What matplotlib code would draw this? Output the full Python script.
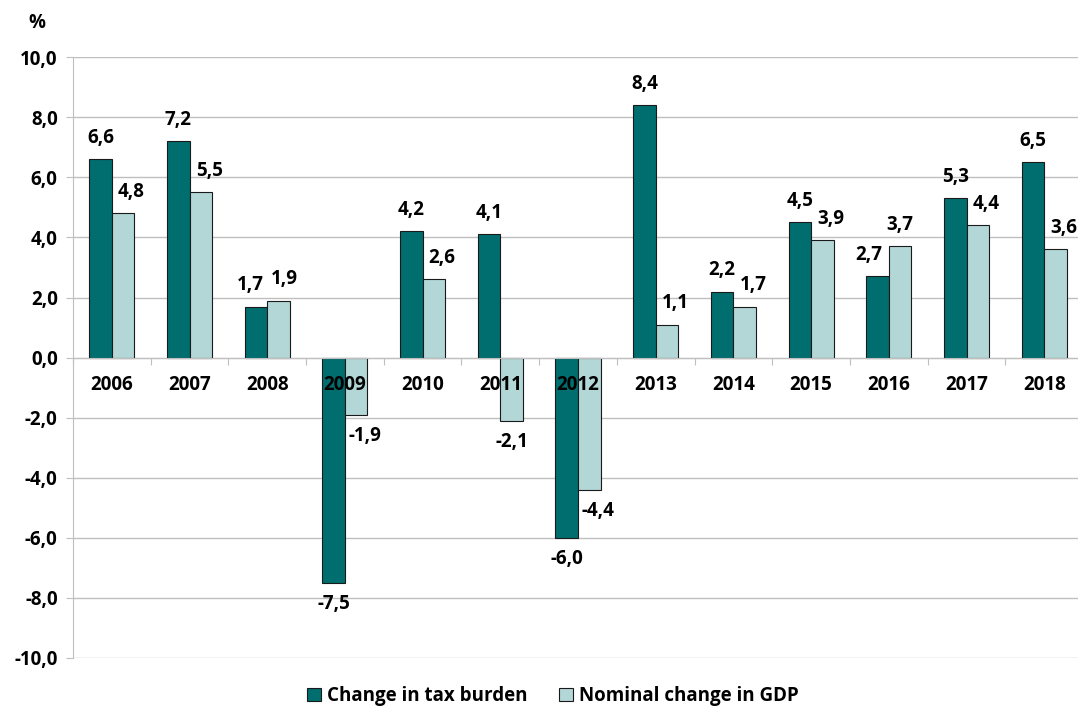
import matplotlib
matplotlib.use("Agg")
import matplotlib.pyplot as plt
import numpy as np
from matplotlib.patches import Patch

years = ["2006", "2007", "2008", "2009", "2010", "2011", "2012",
         "2013", "2014", "2015", "2016", "2017", "2018"]
tax_burden = [6.6, 7.2, 1.7, -7.5, 4.2, 4.1, -6.0, 8.4, 2.2, 4.5, 2.7, 5.3, 6.5]
gdp_change = [4.8, 5.5, 1.9, -1.9, 2.6, -2.1, -4.4, 1.1, 1.7, 3.9, 3.7, 4.4, 3.6]
series_names = ["Change in tax burden", "Nominal change in GDP"]
yticks = [-10, -8, -6, -4, -2, 0, 2, 4, 6, 8, 10]

FONT = ['Open Sans', 'DejaVu Sans']
plt.rcParams['font.family'] = FONT
plt.rcParams['font.weight'] = 'bold'
FS = 13.5

dark = "#006E6E"
light = "#B3D7D7"
grid_c = "#BFBFBF"
edge_c = "#1a1a1a"

fig = plt.figure(figsize=(10.78, 7.06), dpi=100)
ax = fig.add_axes([0.0677, 0.068, 0.937, 0.851])

x = np.arange(len(years))
w = 0.29
b1 = ax.bar(x - w / 2, tax_burden, w, color=dark, edgecolor=edge_c, linewidth=0.8, zorder=3)
b2 = ax.bar(x + w / 2, gdp_change, w, color=light, edgecolor=edge_c, linewidth=0.8, zorder=3)

def fmt(v):
    return f"{v:.1f}".replace(".", ",")

# label placement: shift a label sideways when the neighbouring bar would overlap it
gap_u = 0.4
for i in range(len(years)):
    d, g = tax_burden[i], gdp_change[i]
    sd, sg = 0.0, 0.0
    same = (d >= 0) == (g >= 0)
    if same:
        ad, ag = abs(d), abs(g)
        if ad > ag + gap_u:
            sg = 6
        elif ag > ad + gap_u:
            sd = -6
        else:
            sd, sg = -4, 4
    for v, cx, s in ((d, x[i] - w / 2, sd), (g, x[i] + w / 2, sg)):
        if v >= 0:
            ax.annotate(fmt(v), (cx, v), xytext=(s, 8), textcoords="offset points",
                        ha="center", va="bottom", fontsize=FS, fontweight="bold", zorder=5)
        else:
            ax.annotate(fmt(v), (cx, v), xytext=(s, -8), textcoords="offset points",
                        ha="center", va="top", fontsize=FS, fontweight="bold", zorder=5)

ax.set_ylim(-10, 10)
ax.set_xlim(-0.5, len(years) - 0.5)
ax.set_yticks(yticks)
ax.set_yticklabels([fmt(t) for t in yticks], fontsize=FS, fontweight="bold")
ax.yaxis.grid(True, color=grid_c, linewidth=1.0, zorder=0)
ax.set_axisbelow(True)

ax.spines['top'].set_visible(False)
ax.spines['right'].set_visible(False)
ax.spines['left'].set_color(grid_c)
ax.spines['bottom'].set_position(('data', 0))
ax.spines['bottom'].set_color(grid_c)
ax.spines['bottom'].set_zorder(4)

ax.set_xticks(np.arange(-0.5, len(years), 1.0))
ax.set_xticklabels([])
ax.tick_params(axis='x', direction='out', length=5, color=grid_c)
ax.tick_params(axis='y', direction='out', length=5, color=grid_c, pad=6)

for xi, yr in zip(x, years):
    ax.annotate(yr, (xi, 0), xytext=(0, -20), textcoords="offset points",
                ha="center", va="center", fontsize=FS, fontweight="bold", zorder=6)

fig.text(0.034, 0.968, "%", fontsize=FS, fontweight="bold", ha="center", va="center")

handles = [Patch(facecolor=dark, edgecolor=edge_c, linewidth=0.8),
           Patch(facecolor=light, edgecolor=edge_c, linewidth=0.8)]
fig.legend(handles, series_names, loc="center", bbox_to_anchor=(0.513, 0.014),
           ncol=2, frameon=False, handlelength=0.75, handleheight=0.75,
           handletextpad=0.3, columnspacing=1.7, prop={'family': FONT, 'weight': 'bold', 'size': FS})

fig.savefig("out.png", dpi=100)
